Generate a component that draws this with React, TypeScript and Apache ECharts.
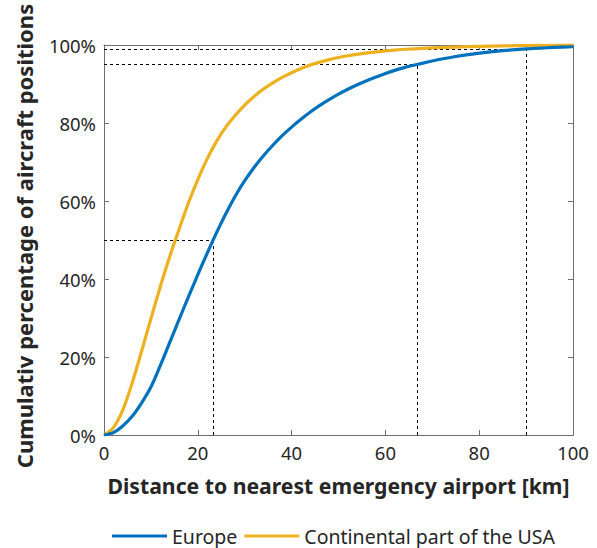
import React, { useEffect, useRef } from "react";
import * as echarts from "echarts";

const europeKm = [0, 2, 4, 6, 8, 10, 12, 14, 16, 18, 20, 22, 24, 26, 28, 30, 32, 34, 36, 38, 40, 42, 44, 46, 48, 50, 52, 54, 56, 58, 60, 62, 64, 66, 68, 70, 72, 75, 78, 81, 84, 87, 90, 93, 96, 100];
const europePct = [0, 0.6, 2.3, 4.8, 8.2, 12.3, 17.8, 23.7, 29.6, 35.4, 41.1, 46.6, 51.9, 56.8, 61.3, 65.2, 68.6, 71.6, 74.3, 76.75, 78.95, 80.95, 82.8, 84.5, 86.0, 87.4, 88.65, 89.8, 90.85, 91.8, 92.7, 93.5, 94.2, 94.8, 95.35, 95.9, 96.4, 97.05, 97.6, 98.05, 98.45, 98.75, 99.0, 99.2, 99.38, 99.55];

const usaKm = [0, 2, 4, 6, 8, 10, 12, 14, 16, 18, 20, 22, 24, 26, 28, 30, 32, 34, 36, 38, 40, 42, 44, 46, 48, 50, 52, 55, 58, 62, 66, 70, 75, 80, 85, 90, 95, 100];
const usaPct = [0, 1.9, 6.4, 13.3, 21.4, 29.8, 38.0, 45.7, 52.7, 59.5, 65.5, 70.8, 75.3, 79.0, 82.0, 84.6, 86.8, 88.7, 90.3, 91.7, 92.9, 93.95, 94.85, 95.6, 96.25, 96.8, 97.25, 97.8, 98.25, 98.7, 99.0, 99.25, 99.48, 99.64, 99.77, 99.87, 99.94, 100];

const thresholdPct = [50, 95, 99];
const thresholdKm = [23.3, 66.7, 90.1];

const yTicks = [0, 20, 40, 60, 80, 100];

const FONT = "Noto Sans";
const TXT = "#262626";
const AX = "#6e6e6e";

export default function App() {
  const ref = useRef<HTMLDivElement>(null);
  useEffect(() => {
    if (!ref.current) return;
    const chart = echarts.init(ref.current, undefined, { renderer: "svg" });
    const dashStyle = { color: "#000", width: 1, type: [3, 3] as any };
    const markData: any[] = [];
    thresholdPct.forEach((p, i) => {
      markData.push([{ coord: [0, p] }, { coord: [thresholdKm[i], p] }]);
      markData.push([{ coord: [thresholdKm[i], 0] }, { coord: [thresholdKm[i], p] }]);
    });
    const axisCommon = {
      type: "value" as const,
      min: 0,
      max: 100,
      interval: 20,
      axisLine: { show: true, onZero: false, lineStyle: { color: AX, width: 1 } },
      axisTick: { show: true, inside: true, length: 5, lineStyle: { color: AX } },
      splitLine: { show: false },
    };
    chart.setOption({
      animation: false,
      textStyle: { fontFamily: FONT },
      grid: { left: 104, right: 24, top: 45, bottom: 113 },
      legend: {
        left: 107,
        top: 521,
        itemWidth: 55,
        itemHeight: 3,
        itemGap: 7,
        icon: "rect",
        textStyle: { fontFamily: FONT, fontSize: 19.5, color: TXT },
        data: ["Europe", "Continental part of the USA"],
      },
      xAxis: [
        {
          ...axisCommon,
          position: "bottom",
          name: "Distance to nearest emergency airport [km]",
          nameLocation: "middle",
          nameGap: 40,
          nameTextStyle: { fontFamily: FONT, fontSize: 21.2, fontWeight: "bold", color: TXT },
          axisLabel: { fontFamily: FONT, fontSize: 18.5, color: TXT, margin: 8 },
        },
        {
          ...axisCommon,
          position: "top",
          axisLabel: { show: false },
        },
      ],
      yAxis: [
        {
          ...axisCommon,
          position: "left",
          name: "Cumulativ percentage of aircraft positions",
          nameLocation: "middle",
          nameGap: 69,
          nameTextStyle: { fontFamily: FONT, fontSize: 22, fontWeight: "bold", color: TXT, padding: [0, 0, 0, 8] },
          axisLabel: {
            fontFamily: FONT,
            fontSize: 18.5,
            color: TXT,
            margin: 8,
            formatter: (v: number) => (yTicks.includes(v) ? v + "%" : ""),
          },
        },
        {
          ...axisCommon,
          position: "right",
          axisLabel: { show: false },
        },
      ],
      series: [
        {
          name: "Europe",
          type: "line",
          smooth: 0.3,
          showSymbol: false,
          symbol: "none",
          data: europeKm.map((k, i) => [k, europePct[i]]),
          lineStyle: { color: "#0072BD", width: 3.2 },
          itemStyle: { color: "#0072BD" },
          z: 3,
          markLine: {
            silent: true,
            symbol: ["none", "none"],
            label: { show: false },
            lineStyle: dashStyle,
            data: markData,
            z: 1,
          },
        },
        {
          name: "Continental part of the USA",
          type: "line",
          smooth: 0.3,
          showSymbol: false,
          symbol: "none",
          data: usaKm.map((k, i) => [k, usaPct[i]]),
          lineStyle: { color: "#EDB120", width: 3.2 },
          itemStyle: { color: "#EDB120" },
          z: 2,
        },
      ],
    });
    return () => chart.dispose();
  }, []);
  return (
    <div
      ref={ref}
      style={{ position: "fixed", left: 0, top: 0, width: 597, height: 548, background: "#fff" }}
    />
  );
}
